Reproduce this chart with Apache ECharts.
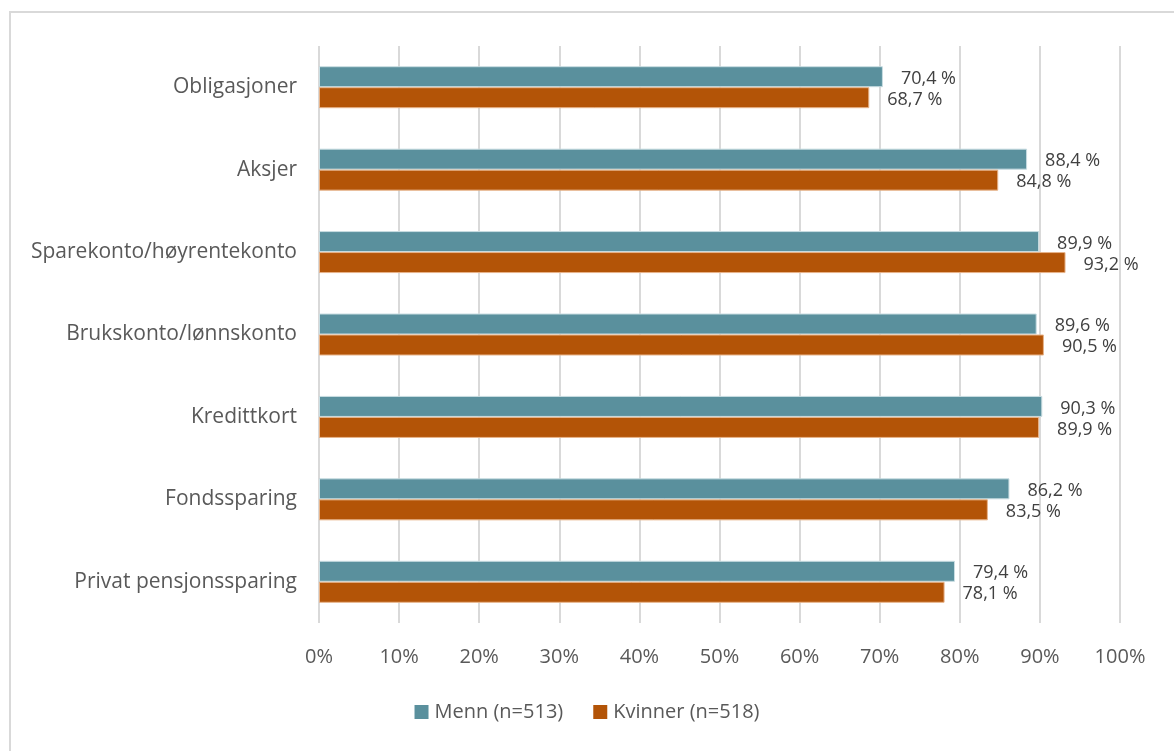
<!DOCTYPE html>
<html>
<head>
<meta charset="utf-8">
<script src="https://cdn.jsdelivr.net/npm/echarts@6/dist/echarts.min.js"></script>
<style>
html,body{margin:0;padding:0;background:#fff;}
#frame{position:absolute;left:9px;top:11px;width:1200px;height:800px;border:2px solid #d9d9d9;box-sizing:border-box;}
#chart{position:absolute;left:0;top:0;width:1174px;height:751px;}
</style>
</head>
<body>
<div id="frame"></div>
<div id="chart"></div>
<script>
const categories = ['Obligasjoner','Aksjer','Sparekonto/høyrentekonto','Brukskonto/lønnskonto','Kredittkort','Fondssparing','Privat pensjonssparing'];
const menn = [70.4, 88.4, 89.9, 89.6, 90.3, 86.2, 79.4];
const kvinner = [68.7, 84.8, 93.2, 90.5, 89.9, 83.5, 78.1];
const seriesNames = ['Menn (n=513)', 'Kvinner (n=518)'];
const xTicks = [0,10,20,30,40,50,60,70,80,90,100];

const FONT = 'Open Sans';
const chart = echarts.init(document.getElementById('chart'));
const labelFmt = p => p.value.toFixed(1).replace('.', ',') + ' %';
chart.setOption({
  backgroundColor: 'transparent',
  animation: false,
  grid: {left: 319, right: 54, top: 46, bottom: 128, containLabel: false},
  legend: {
    data: seriesNames,
    bottom: 24,
    left: 'center',
    itemWidth: 14, itemHeight: 14, itemGap: 30,
    icon: 'rect',
    itemStyle: {borderWidth: 0},
    textStyle: {fontFamily: FONT, fontSize: 20, color: '#595959', padding: [0,0,0,1]}
  },
  xAxis: {
    type: 'value', min: 0, max: 100, interval: 10,
    axisLine: {show: false}, axisTick: {show: false},
    axisLabel: {fontFamily: FONT, fontSize: 20, color: '#595959', margin: 24, formatter: v => xTicks.includes(v) ? v + '%' : ''},
    splitLine: {show: true, lineStyle: {color: '#d9d9d9', width: 2}}
  },
  yAxis: {
    type: 'category', data: categories, inverse: true,
    axisLine: {show: false}, axisTick: {show: false},
    axisLabel: {fontFamily: FONT, fontSize: 21, color: '#595959', margin: 22, padding: [4,0,0,0]}
  },
  series: [
    {name: seriesNames[0], type: 'bar', data: menn, barWidth: 21, barGap: '0%',
     itemStyle: {color: '#5a909d', borderColor: '#c9dde2', borderWidth: 1},
     label: {show: true, position: 'right', distance: 18, offset: [0, 2], fontFamily: FONT, fontSize: 18, color: '#404040', formatter: labelFmt}},
    {name: seriesNames[1], type: 'bar', data: kvinner, barWidth: 21, barGap: '0%',
     itemStyle: {color: '#b35407', borderColor: '#e8b48a', borderWidth: 1},
     label: {show: true, position: 'right', distance: 18, offset: [0, 2], fontFamily: FONT, fontSize: 18, color: '#404040', formatter: labelFmt}}
  ]
});
</script>
</body>
</html>
